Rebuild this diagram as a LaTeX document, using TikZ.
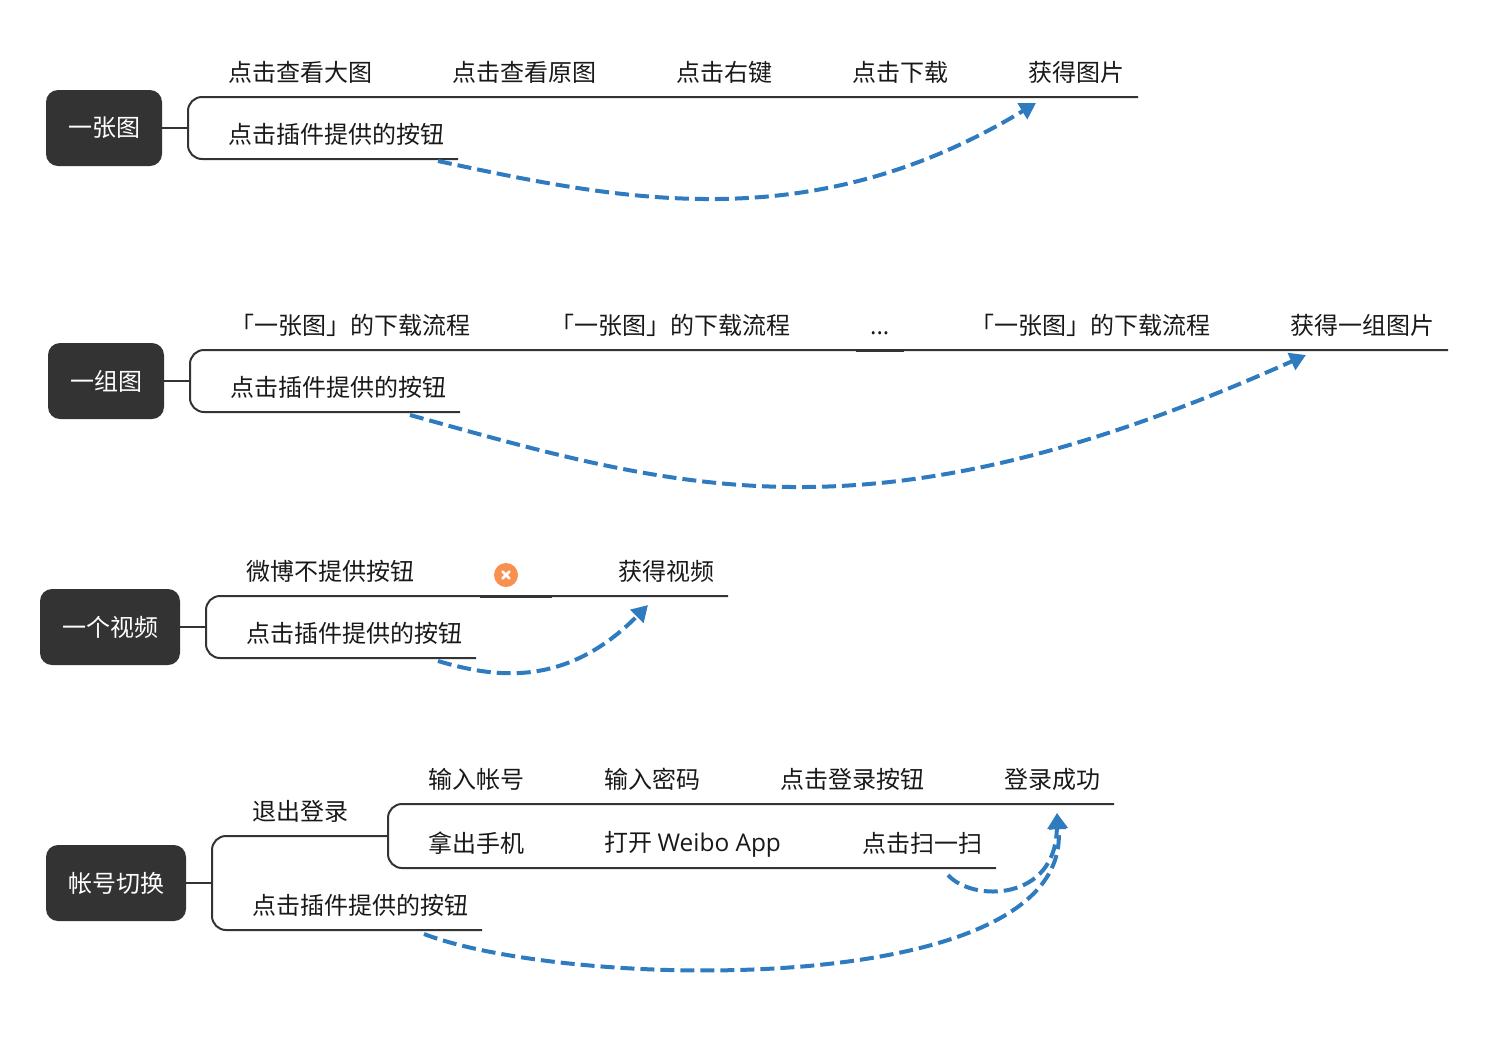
\documentclass[tikz,border=0pt]{standalone}
\usepackage{fontspec}
\setmainfont{Noto Sans CJK SC}
\newfontfamily\latinf{Open Sans}
\usetikzlibrary{arrows.meta}
\definecolor{rootc}{HTML}{333333}
\definecolor{linec}{HTML}{333333}
\definecolor{arrc}{HTML}{2F7BBF}
\definecolor{badc}{HTML}{F89050}
\tikzset{
  x=1pt,y=-1pt,
  rootbox/.style={fill=rootc,text=white,rounded corners=12pt,inner sep=0pt,font=\fontsize{24}{28}\selectfont,anchor=center},
  lab/.style={anchor=west,inner sep=0pt,text=black!90,font=\fontsize{24}{28}\selectfont},
  bline/.style={draw=linec,line width=2pt,rounded corners=14pt},
  hline/.style={draw=linec,line width=2.4pt},
  thick seg/.style={draw=linec,line width=3pt},
  flow/.style={draw=arrc,line width=4pt,dash pattern=on 14pt off 6pt,-{Triangle[length=16pt,width=18pt]}},
}
\begin{document}
\begin{tikzpicture}
\useasboundingbox (0,0) rectangle (1510,1042);
% Group 1
\node[rootbox,minimum width=116pt,minimum height=76pt] (r1) at (104,128) {一张图};
\coordinate (b1m) at (188,128); \coordinate (b1t) at (188,97); \coordinate (b1b) at (188,159);
\coordinate (b1te) at (1138,97); \coordinate (b1be) at (458,159);
\draw[hline] (r1.east) -- (b1m);
\draw[bline] (b1te) -- (b1t) -- (b1b) -- (b1be);
\node[lab] (a1) at (228,72) {点击查看大图};
\node[lab] (a2) at (452,72) {点击查看原图};
\node[lab] (a3) at (676,72) {点击右键};
\node[lab] (a4) at (852,72) {点击下载};
\node[lab] (a5) at (1028,72) {获得图片};
\node[lab] (a6) at (228,134) {点击插件提供的按钮};
\coordinate (f1s) at (438,161); \coordinate (f1e) at (1036,103);
\draw[flow] (f1s) .. controls (620,200) and (810,240) .. (f1e);
% Group 2
\node[rootbox,minimum width=116pt,minimum height=76pt] (r2) at (106,381) {一组图};
\coordinate (b2m) at (190,381); \coordinate (b2t) at (190,350); \coordinate (b2b) at (190,412);
\coordinate (b2te) at (1448,350); \coordinate (b2be) at (460,412);
\draw[hline] (r2.east) -- (b2m);
\draw[bline] (b2te) -- (b2t) -- (b2b) -- (b2be);
\node[lab] (c1) at (230,325) {「一张图」的下载流程};
\node[lab] (c2) at (550,325) {「一张图」的下载流程};
\node[lab,font=\latinf\fontsize{24}{28}\selectfont] (c3) at (870,333) {...};
\node[lab] (c4) at (970,325) {「一张图」的下载流程};
\node[lab] (c5) at (1290,325) {获得一组图片};
\node[lab] (c6) at (230,387) {点击插件提供的按钮};
\coordinate (s2a) at (856,350); \coordinate (s2b) at (904,350);
\draw[thick seg] (s2a) -- (s2b);
\coordinate (f2s) at (410,415); \coordinate (f2e) at (1306,355);
\draw[flow] (f2s) .. controls (680,490) and (870,550) .. (f2e);
% Group 3
\node[rootbox,minimum width=140pt,minimum height=76pt] (r3) at (110,627) {一个视频};
\coordinate (b3m) at (206,627); \coordinate (b3t) at (206,596); \coordinate (b3b) at (206,658);
\coordinate (b3te) at (728,596); \coordinate (b3be) at (476,658);
\draw[hline] (r3.east) -- (b3m);
\draw[bline] (b3te) -- (b3t) -- (b3b) -- (b3be);
\node[lab] (d1) at (246,571) {微博不提供按钮};
\node[lab] (d3) at (618,571) {获得视频};
\node[lab] (d4) at (246,633) {点击插件提供的按钮};
\node[circle,fill=badc,minimum size=24pt,inner sep=0pt] (d2) at (506,575) {};
\draw[white,line width=2.6pt,line cap=round] (d2.center) ++(-3.5,-3.5) -- ++(7,7);
\draw[white,line width=2.6pt,line cap=round] (d2.center) ++(3.5,-3.5) -- ++(-7,7);
\coordinate (s3a) at (480,596); \coordinate (s3b) at (552,596);
\draw[thick seg] (s3a) -- (s3b);
\coordinate (f3s) at (438,661); \coordinate (f3e) at (648,605);
\draw[flow] (f3s) .. controls (495,678) and (566,688) .. (f3e);
% Group 4
\node[rootbox,minimum width=140pt,minimum height=76pt] (r4) at (116,883) {帐号切换};
\coordinate (b4m) at (212,883); \coordinate (b4t) at (212,836); \coordinate (b4b) at (212,930);
\coordinate (b4te) at (388,836); \coordinate (b4be) at (482,930);
\draw[hline] (r4.east) -- (b4m);
\draw[bline] (b4te) -- (b4t) -- (b4b) -- (b4be);
\coordinate (b5t) at (388,804); \coordinate (b5b) at (388,868);
\coordinate (b5te) at (1114,804); \coordinate (b5be) at (996,868);
\draw[bline] (b5te) -- (b5t) -- (b5b) -- (b5be);
\node[lab] (e1) at (252,811) {退出登录};
\node[lab] (e2) at (252,905) {点击插件提供的按钮};
\node[lab] (e3) at (428,779) {输入帐号};
\node[lab] (e4) at (604,779) {输入密码};
\node[lab] (e5) at (780,779) {点击登录按钮};
\node[lab] (e6) at (1004,779) {登录成功};
\node[lab] (e7) at (428,843) {拿出手机};
\node[lab] (e8) at (604,844) {打开 {\latinf\fontsize{24.4}{28}\selectfont Weibo App}};
\node[lab] (e9) at (862,843) {点击扫一扫};
\coordinate (f4s) at (948,875); \coordinate (f4e) at (1057,813);
\coordinate (f5s) at (424,934);
\draw[flow] (f4s) .. controls (972,902) and (1056,902) .. (f4e);
\draw[flow] (f5s) .. controls (570,990) and (1075,1000) .. (f4e);
\end{tikzpicture}
\end{document}
